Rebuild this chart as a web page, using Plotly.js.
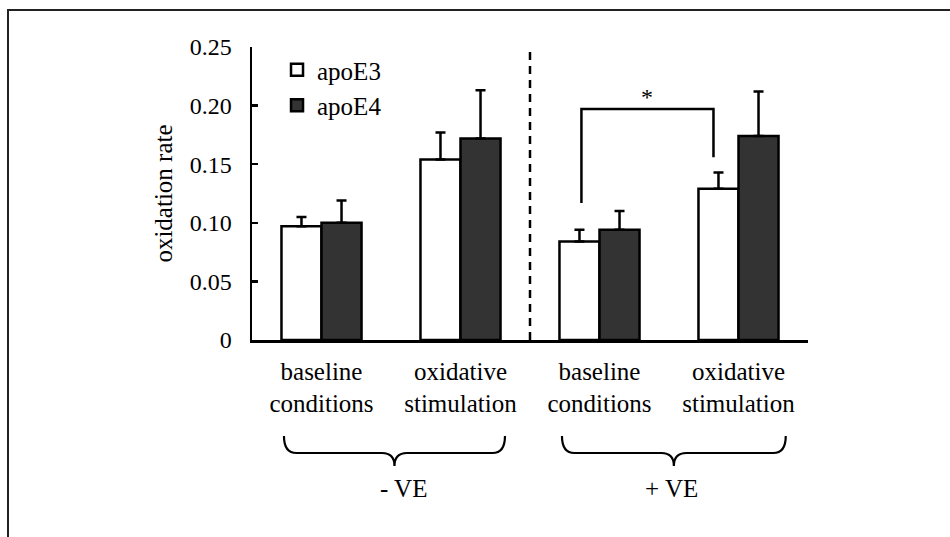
<!DOCTYPE html>
<html>
<head>
<meta charset="utf-8">
<script src="https://cdn.plot.ly/plotly-3.0.1.min.js"></script>
<style>html,body{margin:0;padding:0;background:#fff;}#chart{width:950px;height:537px;}</style>
</head>
<body>
<div id="chart"></div>
<script>
// ---- data ----
const categories = ['baseline<br>conditions', 'oxidative<br>stimulation', 'baseline<br>conditions', 'oxidative<br>stimulation'];
const groupLabels = ['- VE', '+ VE'];
const seriesNames = ['apoE3', 'apoE4'];
const apoE3 = [0.097, 0.154, 0.084, 0.129];
const apoE3Err = [0.008, 0.023, 0.010, 0.014];
const apoE4 = [0.100, 0.172, 0.094, 0.174];
const apoE4Err = [0.019, 0.041, 0.016, 0.038];
const yTickVals = [0, 0.05, 0.10, 0.15, 0.20, 0.25];
const yTickText = ['0', '0.05', '0.10', '0.15', '0.20', '0.25'];
const yTitle = 'oxidation rate';
const sigLabel = '*';

// ---- chart ----
const FONT = '"Liberation Serif", "Times New Roman", Times, serif';
const xPos = categories.map((c, i) => i);

function errUp(arr) {
  return {type: 'data', symmetric: false, array: arr, arrayminus: arr.map(() => 0),
          color: '#000', thickness: 2.5, width: 5};
}

const traces = [
  {type: 'bar', name: seriesNames[0], x: xPos, y: apoE3, error_y: errUp(apoE3Err),
   marker: {color: '#ffffff', line: {color: '#000', width: 2.5}}},
  {type: 'bar', name: seriesNames[1], x: xPos, y: apoE4, error_y: errUp(apoE4Err),
   marker: {color: '#333333', line: {color: '#000', width: 2.5}}}
];

// pixel helpers for decorations (plot area: y=0 at 340px, height 293px)
const py2paper = py => (340 - py) / 293;

function bracePath(xl, xr, yTop, yMid, yTip, r) {
  const xm = (xl + xr) / 2;
  return `M${xl},${yTop} Q${xl},${yMid} ${xl + r},${yMid} L${xm - r},${yMid} Q${xm},${yMid} ${xm},${yTip} ` +
         `Q${xm},${yMid} ${xm + r},${yMid} L${xr - r},${yMid} Q${xr},${yMid} ${xr},${yTop}`;
}
const bTop = py2paper(436), bMid = py2paper(453), bTip = py2paper(466);

const shapes = [
  // outer frame
  {type: 'rect', xref: 'paper', yref: 'paper', x0: (8 - 252) / 556, x1: 1.3, y0: -0.75, y1: py2paper(10),
   line: {color: '#222', width: 2}, fillcolor: 'rgba(0,0,0,0)'},
  // dashed separator
  {type: 'line', xref: 'x', yref: 'y', x0: 1.5, x1: 1.5, y0: 0, y1: 0.25,
   line: {color: '#000', width: 2.5, dash: '8px,6px'}},
  // significance bracket
  {type: 'path', xref: 'x', yref: 'y', path: 'M1.87,0.117 V0.197 H2.82 V0.156',
   line: {color: '#000', width: 2.5}},
  // braces
  {type: 'path', xref: 'x', yref: 'paper', path: bracePath(-0.27, 1.32, bTop, bMid, bTip, 0.09),
   line: {color: '#000', width: 2.2}},
  {type: 'path', xref: 'x', yref: 'paper', path: bracePath(1.73, 3.34, bTop, bMid, bTip, 0.09),
   line: {color: '#000', width: 2.2}}
];

const annotations = [
  {xref: 'x', yref: 'y', x: 2.345, y: 0.207, text: sigLabel, showarrow: false, font: {family: FONT, size: 24}},
  {xref: 'x', yref: 'paper', x: 0.59, y: py2paper(504), text: groupLabels[0], showarrow: false, font: {family: FONT, size: 25}},
  {xref: 'x', yref: 'paper', x: 2.52, y: py2paper(504), text: groupLabels[1], showarrow: false, font: {family: FONT, size: 25}}
];

const layout = {
  width: 950, height: 537,
  margin: {l: 252, r: 142, t: 47, b: 197},
  paper_bgcolor: '#fff', plot_bgcolor: '#fff',
  font: {family: FONT, size: 25, color: '#000'},
  barmode: 'group', bargap: 0.424, bargroupgap: 0,
  showlegend: true,
  legend: {x: 0.045, y: 1.0, xanchor: 'left', yanchor: 'top', bgcolor: 'rgba(0,0,0,0)',
           font: {family: FONT, size: 25}, traceorder: 'normal', itemwidth: 30, tracegroupgap: 0},
  xaxis: {range: [-0.5, 3.5], tickmode: 'array', tickvals: xPos, ticktext: categories,
          tickfont: {family: FONT, size: 25},
          showline: true, linecolor: '#000', linewidth: 2.5, ticks: '', showgrid: false,
          zeroline: false, automargin: false, fixedrange: true, ticklabelstandoff: 7},
  yaxis: {range: [0, 0.25], tickmode: 'array', tickvals: yTickVals, ticktext: yTickText,
          tickfont: {family: FONT, size: 24},
          showline: true, linecolor: '#000', linewidth: 2.5, ticks: 'inside', ticklen: 6,
          tickwidth: 2.5, tickcolor: '#000', showgrid: false, zeroline: false, automargin: false,
          ticklabelstandoff: 13,
          title: {text: yTitle, standoff: 10, font: {family: FONT, size: 25}}},
  shapes: shapes,
  annotations: annotations
};

Plotly.newPlot('chart', traces, layout, {displayModeBar: false, staticPlot: true});
</script>
</body>
</html>
